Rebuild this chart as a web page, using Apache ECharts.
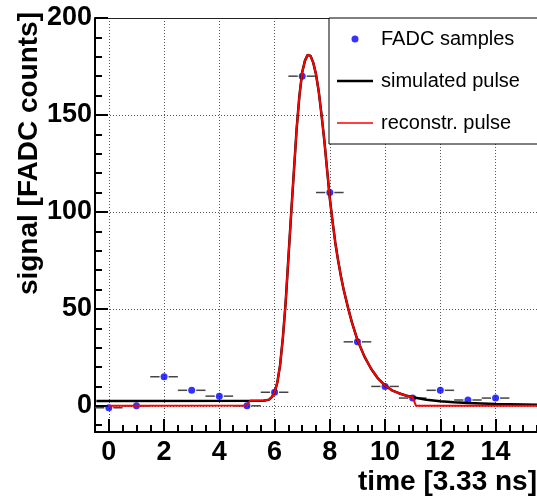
<!DOCTYPE html>
<html>
<head>
<meta charset="utf-8">
<script src="https://cdn.jsdelivr.net/npm/echarts@6/dist/echarts.min.js"></script>
<style>
html,body{margin:0;padding:0;background:#fff;}
#chart{width:537px;height:499px;}
</style>
</head>
<body>
<div id="chart"></div>
<script>
// ---- data ----
const sampleTime   = [0, 1, 2, 3, 4, 5, 6, 7, 8, 9, 10, 11, 12, 13, 14];
const sampleSignal = [-1, 0, 15, 8, 5, 0, 7, 170, 110, 33, 10, 4, 8, 3, 4];
const sampleTimeErr = 0.5;

const simTime   = [-0.45, 5.6, 5.8, 5.9, 6.0, 6.1, 6.2, 6.3, 6.4, 6.5, 6.6, 6.7, 6.8, 6.9, 7.0, 7.1, 7.2, 7.25, 7.3, 7.4, 7.5, 7.6, 7.7, 7.8, 7.9, 8.0, 8.1, 8.2, 8.3, 8.4, 8.5, 8.67, 8.8, 9.0, 9.25, 9.5, 9.75, 10.0, 10.25, 10.5, 10.75, 11.0, 11.5, 12.0, 12.5, 13.0, 14.0, 15.5];
const simSignal = [2.5, 2.6, 3.2, 4.5, 7, 12, 21, 35, 53, 76, 99, 121, 143, 160, 172, 178, 181, 181.5, 180.5, 177, 171, 162, 150, 137, 122, 107, 95, 84, 75, 67, 60, 50, 43, 34, 25.5, 19, 14, 10.5, 8, 6.5, 5.3, 4.4, 3.1, 2.3, 1.8, 1.4, 0.9, 0.5];

const recTime   = [0, 4.97, 5.12, 5.6, 5.8, 5.9, 6.0, 6.1, 6.2, 6.3, 6.4, 6.5, 6.6, 6.7, 6.8, 6.9, 7.0, 7.1, 7.2, 7.25, 7.3, 7.4, 7.5, 7.6, 7.7, 7.8, 7.9, 8.0, 8.1, 8.2, 8.3, 8.4, 8.5, 8.67, 8.8, 9.0, 9.25, 9.5, 9.75, 10.0, 10.25, 10.5, 10.75, 11.0, 11.04, 11.12, 15.5];
const recSignal = [0, 0.2, 2.7, 2.7, 3.2, 4.5, 7, 12, 21, 35, 53, 76, 99, 121, 143, 160, 172, 178, 181, 181.5, 180.5, 177, 171, 162, 150, 137, 122, 107, 95, 84, 75, 67, 60, 50, 43, 34, 25.5, 19, 14, 10.5, 8, 6.5, 5.3, 4.4, 4.2, 0, 0];

const xTickLabels = [0, 2, 4, 6, 8, 10, 12, 14];
const yTickLabels = [0, 50, 100, 150, 200];
const yMinorTicks = [-10, 0, 10, 20, 30, 40, 50, 60, 70, 80, 90, 100, 110, 120, 130, 140, 150, 160, 170, 180, 190, 200];

const seriesNames = ['FADC samples', 'simulated pulse', 'reconstr. pulse'];
const xTitle = 'time [3.33 ns]';
const yTitle = 'signal [FADC counts]';

// ---- build ----
const zip = (a, b) => a.map((v, i) => [v, b[i]]);
const FONT = '"Liberation Sans", Arial, Helvetica, sans-serif';
const X_MIN = -0.5, X_MAX = 15.5, Y_MIN = -13.5, Y_MAX = 200;

const chart = echarts.init(document.getElementById('chart'), null, {renderer: 'canvas'});

const option = {
  animation: false,
  backgroundColor: '#fff',
  grid: {left: 95, right: 0, top: 18, bottom: 67, containLabel: false},
  xAxis: [
    {
      type: 'value', min: X_MIN, max: X_MAX, position: 'bottom',
      axisLine: {show: true, onZero: false, lineStyle: {color: '#000', width: 2}},
      axisTick: {show: true, inside: true, length: 13, customValues: xTickLabels, lineStyle: {color: '#000', width: 2}},
      axisLabel: {show: true, customValues: xTickLabels, margin: 7, color: '#000', fontSize: 27, fontWeight: 'bold', fontFamily: FONT},
      splitLine: {show: true, lineStyle: {color: '#555', width: 1, type: [1, 2]}}
    },
    {
      type: 'value', min: X_MIN, max: X_MAX, interval: 0.5, position: 'bottom',
      axisLine: {show: false, onZero: false},
      axisTick: {show: true, inside: true, length: 7, lineStyle: {color: '#000', width: 2}},
      axisLabel: {show: false},
      splitLine: {show: false}
    },
    {
      type: 'value', min: X_MIN, max: X_MAX, position: 'top',
      axisLine: {show: true, onZero: false, lineStyle: {color: '#222', width: 1}},
      axisTick: {show: false}, axisLabel: {show: false}, splitLine: {show: false}
    }
  ],
  yAxis: [
    {
      type: 'value', min: Y_MIN, max: Y_MAX, position: 'left',
      axisLine: {show: true, onZero: false, lineStyle: {color: '#000', width: 2}},
      axisTick: {show: true, inside: true, length: 13, customValues: yTickLabels, lineStyle: {color: '#000', width: 2}},
      axisLabel: {show: true, customValues: yTickLabels, margin: 3, color: '#000', fontSize: 27, fontWeight: 'bold', fontFamily: FONT},
      splitLine: {show: true, lineStyle: {color: '#555', width: 1, type: [1, 2]}}
    },
    {
      type: 'value', min: Y_MIN, max: Y_MAX, position: 'left', offset: 0,
      axisLine: {show: false, onZero: false},
      axisTick: {show: true, inside: true, length: 7, customValues: yMinorTicks, lineStyle: {color: '#000', width: 2}},
      axisLabel: {show: false},
      splitLine: {show: false}
    }
  ],
  legend: {
    orient: 'vertical',
    left: 329, top: 18,
    padding: [11, 60, 11, 8],
    itemWidth: 36, itemHeight: 7, itemGap: 22,
    symbolKeepAspect: true,
    backgroundColor: '#fff', borderColor: '#000', borderWidth: 1, borderRadius: 0,
    textStyle: {color: '#000', fontSize: 20, fontFamily: FONT, lineHeight: 20, padding: [0, 0, 0, 3]},
    data: [
      {name: seriesNames[0], icon: 'circle'},
      {name: seriesNames[1], icon: 'path://M0,0L36,0L36,2.7L0,2.7Z'},
      {name: seriesNames[2], icon: 'path://M0,0L36,0L36,1.6L0,1.6Z'}
    ]
  },
  series: [
    {
      type: 'custom', name: 'errors', xAxisIndex: 0, yAxisIndex: 0, z: 2,
      data: zip(sampleTime, sampleSignal),
      renderItem: function (params, api) {
        const x = api.value(0), y = api.value(1);
        const c = api.coord([x, y]);
        const l = api.coord([x - sampleTimeErr, y]);
        const r = api.coord([x + sampleTimeErr, y]);
        const gap = 4.5;
        const st = {stroke: '#444', lineWidth: 1.5};
        return {type: 'group', children: [
          {type: 'line', shape: {x1: l[0], y1: l[1], x2: c[0] - gap, y2: c[1]}, style: st},
          {type: 'line', shape: {x1: c[0] + gap, y1: c[1], x2: r[0], y2: r[1]}, style: st}
        ]};
      }
    },
    {
      type: 'scatter', name: seriesNames[0], xAxisIndex: 0, yAxisIndex: 0, z: 3,
      symbol: 'circle', symbolSize: 7,
      itemStyle: {color: '#0000ff'},
      data: zip(sampleTime, sampleSignal)
    },
    {
      type: 'line', name: seriesNames[1], xAxisIndex: 0, yAxisIndex: 0, z: 4,
      symbol: 'none', showSymbol: false, smooth: false,
      lineStyle: {color: '#000', width: 2.5}, itemStyle: {color: '#000'},
      data: zip(simTime, simSignal)
    },
    {
      type: 'line', name: seriesNames[2], xAxisIndex: 0, yAxisIndex: 0, z: 5,
      symbol: 'none', showSymbol: false, smooth: false,
      lineStyle: {color: '#ff0000', width: 2}, itemStyle: {color: '#ff0000'},
      data: zip(recTime, recSignal)
    }
  ],
  graphic: [
    {
      type: 'text', right: 0, top: 468,
      style: {text: xTitle, fill: '#000', font: 'bold 28px ' + FONT, textAlign: 'right'}
    },
    {
      type: 'text', x: 29, y: 12, rotation: Math.PI / 2,
      style: {text: yTitle, fill: '#000', font: 'bold 28px ' + FONT, textAlign: 'right', textVerticalAlign: 'middle'}
    }
  ]
};

chart.setOption(option);
</script>
</body>
</html>
